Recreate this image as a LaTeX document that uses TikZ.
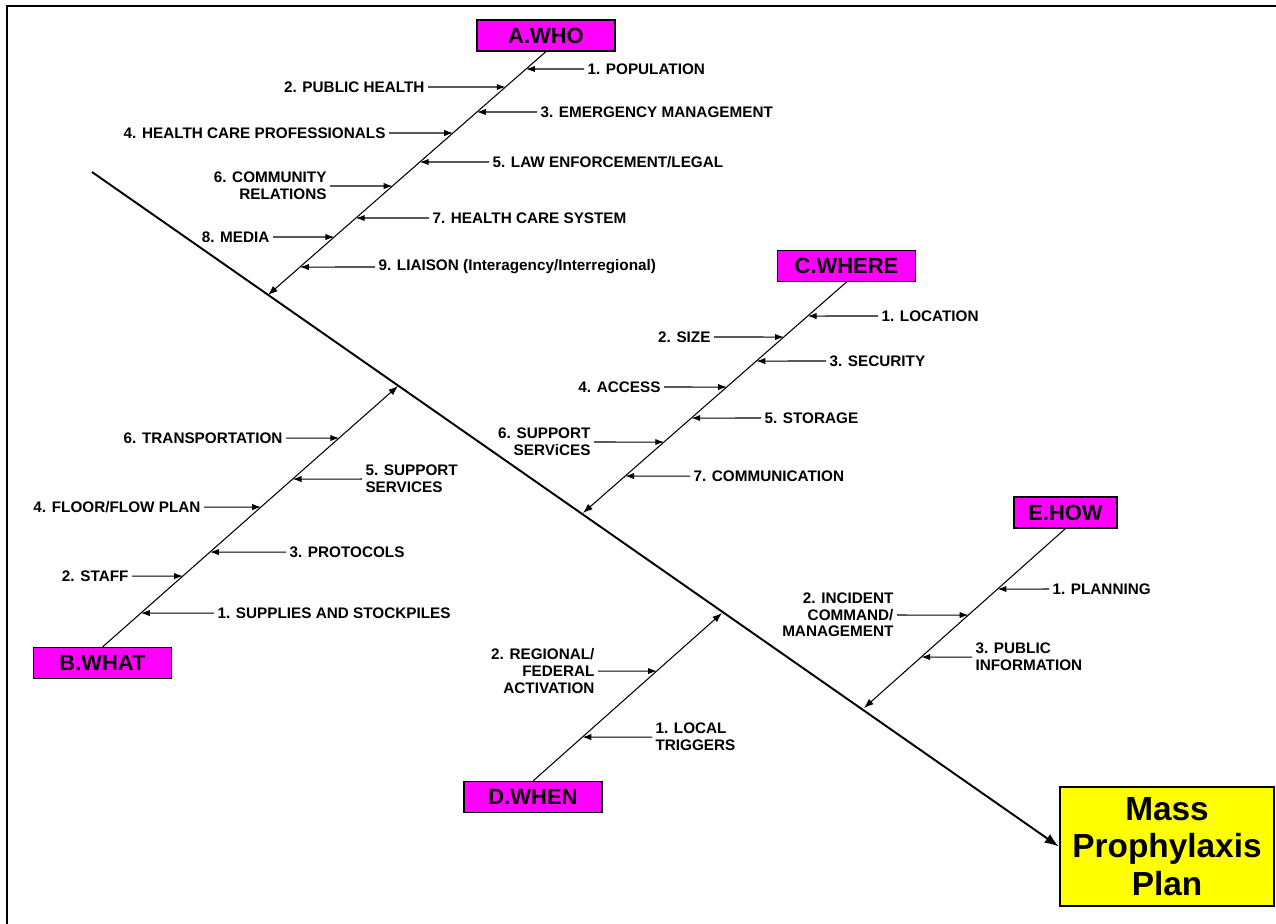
\documentclass[tikz,border=0pt]{standalone}
\usepackage{fontspec}
\setmainfont{Liberation Sans}
\usetikzlibrary{arrows.meta}
\definecolor{catpink}{RGB}{255,0,255}
\definecolor{planyellow}{RGB}{255,255,0}
\tikzset{%
	cause/.style  = {draw, fill=catpink, line width=0.6pt, minimum width=2.76cm,
		minimum height=0.62cm, inner sep=0pt, font=\fontsize{12.5}{14}\selectfont\bfseries}, % category box
	effect/.style = {draw, fill=planyellow, line width=1.4pt, minimum width=4.28cm,
		minimum height=2.38cm, align=center, font=\fontsize{19}{21.5}\selectfont\bfseries}, % result box
	lbl/.style    = {inner sep=1.8pt, font=\fontsize{8.7}{9.5}\selectfont\bfseries}, % rib label
	bone/.style   = {line width=0.6pt, -{Latex[length=5pt,width=3.6pt]}}, % rib arrow
	spine/.style  = {line width=0.6pt, -{Latex[length=5.5pt,width=4pt]}},
	trunk/.style  = {line width=1.1pt, -{Latex[length=8pt,width=6pt]}},
	frame/.style  = {line width=1.6pt}
}

\begin{document}
\begin{tikzpicture}[x=0.02cm,y=-0.02cm]
	\useasboundingbox (0,0) rectangle (1276,924);
	\draw[frame] (7,924) -- (7,6) -- (1276,6);

	% head and backbone
	\node[effect] (plan) at (1167,846.5) {Mass\\Prophylaxis\\Plan};
	\coordinate (tail) at (92,172);
	\draw[trunk] (tail) -- (plan.west);

	% categories
	\node[cause] (who) at (546,35.5) {A.WHO};
	\node[cause] (what) at (102.5,663) {B.WHAT};
	\node[cause] (where) at (846.5,266) {C.WHERE};
	\node[cause] (when) at (533,797) {D.WHEN};
	\node[cause, minimum width=2.06cm] (how) at (1065.5,512.5) {E.HOW};

	\coordinate (whoend) at (268,295);
	\coordinate (whatend) at (398,386);
	\coordinate (whereend) at (583,513);
	\coordinate (whenend) at (722,613);
	\coordinate (howend) at (864,708);

	\draw[spine] (who.south) -- (whoend);
	\draw[spine] (what.north) -- (whatend);
	\draw[spine] (where.south) -- (whereend);
	\draw[spine] (when.north) -- (whenend);
	\draw[spine] (how.south) -- (howend);

	% A.WHO
	\coordinate (a1) at (intersection of who.south--whoend and 0,69--10,69);
	\coordinate (a2) at (intersection of who.south--whoend and 0,87--10,87);
	\coordinate (a3) at (intersection of who.south--whoend and 0,112--10,112);
	\coordinate (a4) at (intersection of who.south--whoend and 0,133--10,133);
	\coordinate (a5) at (intersection of who.south--whoend and 0,162--10,162);
	\coordinate (a6) at (intersection of who.south--whoend and 0,186--10,186);
	\coordinate (a7) at (intersection of who.south--whoend and 0,218--10,218);
	\coordinate (a8) at (intersection of who.south--whoend and 0,237--10,237);
	\coordinate (a9) at (intersection of who.south--whoend and 0,267--10,267);
	\node[lbl, anchor=west] (a1l) at (584,69) {1. POPULATION};
	\node[lbl, anchor=east] (a2l) at (428,87) {2. PUBLIC HEALTH};
	\node[lbl, anchor=west] (a3l) at (537,112) {3. EMERGENCY MANAGEMENT};
	\node[lbl, anchor=east] (a4l) at (389,133) {4. HEALTH CARE PROFESSIONALS};
	\node[lbl, anchor=west] (a5l) at (489,162) {5. LAW ENFORCEMENT/LEGAL};
	\node[lbl, anchor=east, align=right] (a6l) at (330,186) {6. COMMUNITY\\RELATIONS};
	\node[lbl, anchor=west] (a7l) at (429,218) {7. HEALTH CARE SYSTEM};
	\node[lbl, anchor=east] (a8l) at (273,237) {8. MEDIA};
	\node[lbl, anchor=west] (a9l) at (375,267) {9. LIAISON (Interagency/Interregional)};
	\foreach \i in {1,...,9}
		\draw[bone] (a\i l) -- (a\i);

	% B.WHAT
	\coordinate (b1) at (intersection of what.north--whatend and 0,613--10,613);
	\coordinate (b2) at (intersection of what.north--whatend and 0,576--10,576);
	\coordinate (b3) at (intersection of what.north--whatend and 0,552--10,552);
	\coordinate (b4) at (intersection of what.north--whatend and 0,507--10,507);
	\coordinate (b5) at (intersection of what.north--whatend and 0,479--10,479);
	\coordinate (b6) at (intersection of what.north--whatend and 0,438--10,438);
	\node[lbl, anchor=west] (b1l) at (214,613) {1. SUPPLIES AND STOCKPILES};
	\node[lbl, anchor=east] (b2l) at (132,576) {2. STAFF};
	\node[lbl, anchor=west] (b3l) at (286,552) {3. PROTOCOLS};
	\node[lbl, anchor=east] (b4l) at (204,507) {4. FLOOR/FLOW PLAN};
	\node[lbl, anchor=west, align=left] (b5l) at (362,479) {5. SUPPORT\\SERVICES};
	\node[lbl, anchor=east] (b6l) at (286,438) {6. TRANSPORTATION};
	\foreach \i in {1,...,6}
		\draw[bone] (b\i l) -- (b\i);

	% C.WHERE
	\coordinate (c1) at (intersection of where.south--whereend and 0,316--10,316);
	\coordinate (c2) at (intersection of where.south--whereend and 0,337--10,337);
	\coordinate (c3) at (intersection of where.south--whereend and 0,361--10,361);
	\coordinate (c4) at (intersection of where.south--whereend and 0,387--10,387);
	\coordinate (c5) at (intersection of where.south--whereend and 0,418--10,418);
	\coordinate (c6) at (intersection of where.south--whereend and 0,442--10,442);
	\coordinate (c7) at (intersection of where.south--whereend and 0,476--10,476);
	\node[lbl, anchor=west] (c1l) at (878,316) {1. LOCATION};
	\node[lbl, anchor=east] (c2l) at (714,337) {2. SIZE};
	\node[lbl, anchor=west] (c3l) at (826,361) {3. SECURITY};
	\node[lbl, anchor=east] (c4l) at (664,387) {4. ACCESS};
	\node[lbl, anchor=west] (c5l) at (761,418) {5. STORAGE};
	\node[lbl, anchor=east, align=right] (c6l) at (594,442) {6. SUPPORT\\SERViCES};
	\node[lbl, anchor=west] (c7l) at (690,476) {7. COMMUNICATION};
	\foreach \i in {1,...,7}
		\draw[bone] (c\i l) -- (c\i);

	% D.WHEN
	\coordinate (d1) at (intersection of when.north--whenend and 0,737--10,737);
	\coordinate (d2) at (intersection of when.north--whenend and 0,671--10,671);
	\node[lbl, anchor=west, align=left] (d1l) at (652,737) {1. LOCAL\\TRIGGERS};
	\node[lbl, anchor=east, align=right] (d2l) at (598,671) {2. REGIONAL/\\FEDERAL\\ACTIVATION};
	\draw[bone] (d1l) -- (d1);
	\draw[bone] (d2l) -- (d2);

	% E.HOW
	\coordinate (e1) at (intersection of how.south--howend and 0,589--10,589);
	\coordinate (e2) at (intersection of how.south--howend and 0,615--10,615);
	\coordinate (e3) at (intersection of how.south--howend and 0,657--10,657);
	\node[lbl, anchor=west] (e1l) at (1049,589) {1. PLANNING};
	\node[lbl, anchor=east, align=right] (e2l) at (897,615) {2. INCIDENT\\COMMAND/\\MANAGEMENT};
	\node[lbl, anchor=west, align=left] (e3l) at (972,657) {3. PUBLIC\\INFORMATION};
	\foreach \i in {1,...,3}
		\draw[bone] (e\i l) -- (e\i);
\end{tikzpicture}
\end{document}
